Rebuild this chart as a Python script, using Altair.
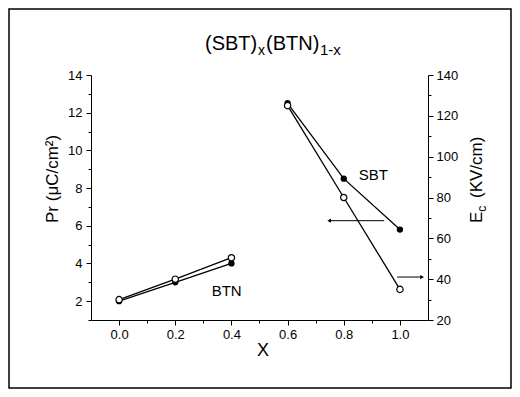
import altair as alt
import pandas as pd

# ---- data ----
x_vals = [0.0, 0.2, 0.4, 0.6, 0.8, 1.0]
pr_vals = [2.0, 3.0, 4.0, 12.5, 8.5, 5.8]      # Pr (uC/cm2), filled circles, left axis
ec_vals = [30.0, 40.0, 50.5, 125.0, 80.0, 35.0]  # Ec (KV/cm), open circles, right axis
groups = ["BTN", "BTN", "BTN", "SBT", "SBT", "SBT"]

label_text = ["SBT", "BTN"]
label_x = [0.905, 0.383]
label_pr = [8.67, 2.53]

arrow_x = [0.944, 0.99]
arrow_x2 = [0.748, 1.079]
arrow_pr = [6.27, 3.28]
arrow_shape = ["triangle-left", "triangle-right"]

x_ticks = [0.0, 0.1, 0.2, 0.3, 0.4, 0.5, 0.6, 0.7, 0.8, 0.9, 1.0]
pr_ticks = [1, 2, 3, 4, 5, 6, 7, 8, 9, 10, 11, 12, 13, 14]
ec_ticks = [20, 30, 40, 50, 60, 70, 80, 90, 100, 110, 120, 130, 140]

df = pd.DataFrame({"x": x_vals, "pr": pr_vals, "ec": ec_vals, "g": groups})
df_lab = pd.DataFrame({"x": label_x, "pr": label_pr, "t": label_text})
df_arr = pd.DataFrame({"x": arrow_x, "x2": arrow_x2, "pr": arrow_pr, "s": arrow_shape})
df_head = pd.DataFrame({"x": arrow_x2, "pr": arrow_pr, "s": arrow_shape})
one = pd.DataFrame({"a": [0]})

FONT = "Liberation Sans"

common_axis = dict(grid=False, title=None, domainColor="black", tickColor="black",
                   labelColor="black", labelFont=FONT, labelFontSize=13,
                   labelOverlap=False, labelFlush=False, domainWidth=1, tickWidth=1)

x_axis = alt.Axis(orient="bottom", values=x_ticks, format=".1f",
                  labelExpr="round(datum.value*10) % 2 == 0 ? datum.label : ''",
                  tickSize={"condition": {"test": "round(datum.value*10) % 2 == 0", "value": 5}, "value": 3},
                  labelPadding=3, **common_axis)
left_axis = alt.Axis(orient="left", values=pr_ticks,
                     labelExpr="round(datum.value) % 2 == 0 ? datum.label : ''",
                     tickSize={"condition": {"test": "round(datum.value) % 2 == 0", "value": 5}, "value": 3},
                     labelPadding=4, **common_axis)
right_axis = alt.Axis(orient="right", values=ec_ticks,
                      labelExpr="round(datum.value) % 20 == 0 ? datum.label : ''",
                      tickSize={"condition": {"test": "round(datum.value) % 20 == 0", "value": 5}, "value": 3},
                      labelPadding=3, **common_axis)

xenc = alt.X("x:Q", scale=alt.Scale(domain=[-0.1, 1.1], nice=False, zero=False), axis=x_axis)
ypr = alt.Y("pr:Q", scale=alt.Scale(domain=[1, 14], nice=False, zero=False), axis=left_axis)
yec = alt.Y("ec:Q", scale=alt.Scale(domain=[20, 140], nice=False, zero=False), axis=right_axis)

base = alt.Chart(df)
pr_line = base.mark_line(color="black", strokeWidth=1.3).encode(x=xenc, y=ypr, detail="g:N")
pr_pts = base.mark_point(filled=True, color="black", size=40, opacity=1).encode(x=xenc, y=ypr)
labels = alt.Chart(df_lab).mark_text(font=FONT, fontSize=15, color="black").encode(
    x=xenc, y=ypr, text="t:N")
arrows = alt.Chart(df_arr).mark_rule(color="black", strokeWidth=1).encode(x=xenc, x2="x2:Q", y=ypr)
heads = alt.Chart(df_head).mark_point(filled=True, color="black", size=18, opacity=1).encode(
    x=xenc, y=ypr, shape=alt.Shape("s:N", scale=None))


def txt(text, x, y, size, angle=0, align="left", baseline="alphabetic"):
    kw = dict(text=text, font=FONT, fontSize=size, color="black", align=align, baseline=baseline)
    if angle:
        kw["angle"] = angle
    return alt.Chart(one).mark_text(**kw).encode(x=alt.value(x), y=alt.value(y))


decor = [
    alt.Chart(one).mark_rect(filled=False, stroke="black", strokeWidth=1.5).encode(
        x=alt.value(-82), x2=alt.value(420), y=alt.value(-66), y2=alt.value(313)),
    # title
    txt("(SBT)", 114, -25, 20),
    txt("x", 167, -20, 14),
    txt("(BTN)", 175, -25, 20),
    txt("1-x", 229, -20, 15),
    # x axis title
    txt("X", 172, 281, 18, align="center"),
    # left axis title
    txt("Pr (\u03bcC/cm\u00b2)", -33.5, 148, 17, angle=270),
    # right axis title
    txt("E", 391, 148, 17, angle=270),
    txt("c", 395, 136.7, 12, angle=270),
    txt("(KV/cm)", 391, 123, 17, angle=270),
]

group_a = alt.layer(pr_line, pr_pts, labels, arrows, heads, *decor)

ec_line = base.mark_line(color="black", strokeWidth=1.3).encode(x=xenc, y=yec, detail="g:N")
ec_pts = base.mark_point(filled=True, fill="white", stroke="black", strokeWidth=1.2,
                         size=40, opacity=1).encode(x=xenc, y=yec)
group_b = alt.layer(ec_line, ec_pts)

chart = alt.layer(group_a, group_b).resolve_scale(y="independent").properties(
    width=337, height=245,
    autosize=alt.AutoSizeParams(type="none"),
    padding={"left": 83, "top": 67, "right": 84, "bottom": 69},
).configure_view(stroke=None)

chart.save("out.html", embed_options={"renderer": "svg", "actions": False})
